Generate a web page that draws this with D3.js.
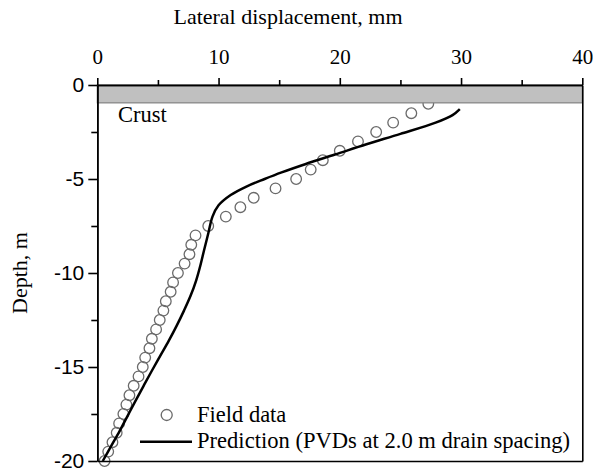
<!DOCTYPE html>
<html>
<head>
<meta charset="utf-8">
<script src="https://cdn.jsdelivr.net/npm/d3@7/dist/d3.min.js"></script>
<style>
  body { margin: 0; background: #fff; }
  svg { display: block; }
  .serif { font-family: "Liberation Serif", "Times New Roman", serif; }
</style>
</head>
<body>
<svg id="chart" width="593" height="470"></svg>
<script>
// field measurements: lateral displacement (mm) vs depth (m)
const fieldDepth = [-1, -1.5, -2, -2.5, -3, -3.5, -4, -4.5, -5, -5.5, -6, -6.5, -7, -7.5, -8, -8.5, -9, -9.5, -10,
  -10.5, -11, -11.5, -12, -12.5, -13, -13.5, -14, -14.5, -15, -15.5, -16, -16.5, -17, -17.5, -18, -18.5, -19, -19.5, -20];
const fieldDisp = [27.3, 25.9, 24.4, 23.0, 21.5, 20.0, 18.6, 17.6, 16.4, 14.7, 12.9, 11.8, 10.6, 9.15, 8.1, 7.75, 7.6, 7.2, 6.65,
  6.25, 6.05, 5.65, 5.45, 5.15, 4.85, 4.5, 4.3, 3.95, 3.75, 3.4, 3.0, 2.65, 2.4, 2.15, 1.8, 1.6, 1.25, 0.9, 0.6];

// predicted profile
const predDepth = [-1.28, -1.6, -2.0, -2.6, -3.15, -3.7, -4.2, -4.65, -5.0, -5.4, -5.85, -6.4, -7.0, -7.9, -8.8, -9.6,
  -10.4, -11.2, -12.0, -12.8, -13.6, -14.4, -15.2, -16.0, -16.8, -17.6, -18.4, -19.2, -20];
const predDisp = [29.9, 29.3, 27.9, 25.0, 22.2, 19.6, 17.2, 15.2, 13.8, 12.3, 11.0, 10.0, 9.5, 9.15, 8.8, 8.5,
  8.15, 7.7, 7.15, 6.55, 5.9, 5.2, 4.5, 3.82, 3.15, 2.5, 1.85, 1.15, 0.45];

const crustTop = 0, crustBottom = -0.95;

const xTicks = [0, 10, 20, 30, 40], xMinor = [5, 15, 25, 35];
const yTicks = [0, -5, -10, -15, -20], yMinor = [-2.5, -7.5, -12.5, -17.5];

const svg = d3.select("#chart");
const pLeft = 97.3, pRight = 582.3, pTop = 85, pBottom = 461;

const x = d3.scaleLinear().domain([0, 40]).range([pLeft, pRight]);
const y = d3.scaleLinear().domain([-20, 0]).range([pBottom, pTop]);

const field = fieldDepth.map((d, i) => ({ x: fieldDisp[i], y: d }));
const pred = predDepth.map((d, i) => ({ x: predDisp[i], y: d }));

// field data circles
svg.append("g")
  .selectAll("circle")
  .data(field)
  .enter()
  .append("circle")
    .attr("cx", d => x(d.x))
    .attr("cy", d => y(d.y))
    .attr("r", 5.3)
    .attr("fill", "none")
    .attr("stroke", "#6a6a6a")
    .attr("stroke-width", 1.3);

// prediction curve
svg.append("path")
  .datum(pred)
  .attr("fill", "none")
  .attr("stroke", "#000")
  .attr("stroke-width", 2.5)
  .attr("d", d3.line().x(d => x(d.x)).y(d => y(d.y)).curve(d3.curveCatmullRom));

// crust band
svg.append("rect")
  .attr("x", x(0))
  .attr("y", y(crustTop))
  .attr("width", x(40) - x(0))
  .attr("height", y(crustBottom) - y(crustTop))
  .attr("fill", "#c0c0c0")
  .attr("stroke", "#808080")
  .attr("stroke-width", 1.2);

svg.append("text")
  .attr("class", "serif")
  .attr("x", 118)
  .attr("y", 122)
  .attr("font-size", 22.5)
  .text("Crust");

// axes
const fmt = d => String(d);

const topAxis = svg.append("g").attr("transform", `translate(0,${pTop})`)
  .call(d3.axisTop(x).tickValues(xTicks).tickFormat(fmt).tickSize(7).tickSizeOuter(0).tickPadding(14));
topAxis.selectAll("text").attr("class", "serif").attr("font-size", 21).attr("fill", "#000");
svg.append("g").attr("transform", `translate(0,${pTop})`)
  .call(d3.axisTop(x).tickValues(xMinor).tickFormat("").tickSize(5).tickSizeOuter(0));

const leftAxis = svg.append("g").attr("transform", `translate(${pLeft},0)`)
  .call(d3.axisLeft(y).tickValues(yTicks).tickFormat(fmt).tickSize(9).tickSizeOuter(0).tickPadding(4));
leftAxis.selectAll("text").attr("font-family", "Liberation Sans, Arial, sans-serif").attr("font-size", 21).attr("fill", "#000");
svg.append("g").attr("transform", `translate(${pLeft},0)`)
  .call(d3.axisLeft(y).tickValues(yMinor).tickFormat("").tickSize(6).tickSizeOuter(0));

svg.append("g").attr("transform", `translate(${pRight},0)`)
  .call(d3.axisRight(y).tickValues([]).tickSizeOuter(0));
svg.append("g").attr("transform", `translate(0,${pBottom})`)
  .call(d3.axisBottom(x).tickValues([]).tickSizeOuter(0));

svg.selectAll(".domain, .tick line").attr("stroke", "#000").attr("stroke-width", 1.6);

// axis titles
svg.append("text")
  .attr("class", "serif")
  .attr("x", 288)
  .attr("y", 24)
  .attr("text-anchor", "middle")
  .attr("font-size", 22)
  .text("Lateral displacement, mm");

svg.append("text")
  .attr("class", "serif")
  .attr("transform", `translate(27,${(pTop + pBottom) / 2}) rotate(-90)`)
  .attr("text-anchor", "middle")
  .attr("font-size", 22)
  .text("Depth, m");

// legend
const legend = svg.append("g").attr("class", "serif").attr("font-size", 22.5);
legend.append("circle")
  .attr("cx", 166.7).attr("cy", 415).attr("r", 5.5)
  .attr("fill", "none").attr("stroke", "#6a6a6a").attr("stroke-width", 1.3);
legend.append("text").attr("x", 197).attr("y", 422).text("Field data");
legend.append("line")
  .attr("x1", 140).attr("x2", 192).attr("y1", 441.7).attr("y2", 441.7)
  .attr("stroke", "#000").attr("stroke-width", 2.5);
legend.append("text").attr("x", 197).attr("y", 448)
  .attr("textLength", 373).attr("lengthAdjust", "spacingAndGlyphs")
  .text("Prediction (PVDs at 2.0 m drain spacing)");
</script>
</body>
</html>
